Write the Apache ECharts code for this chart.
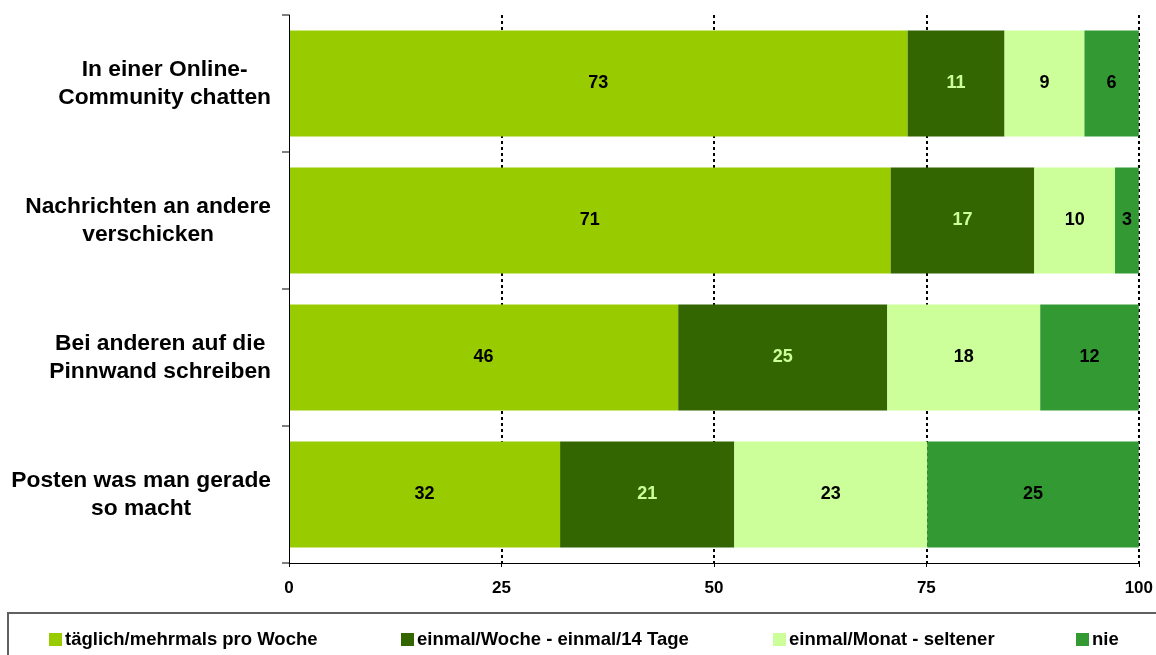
<!DOCTYPE html>
<html>
<head>
<meta charset="utf-8">
<script src="https://cdn.jsdelivr.net/npm/echarts@6/dist/echarts.min.js"></script>
<style>
html,body{margin:0;padding:0;background:#fff;}
#chart{width:1156px;height:655px;}
</style>
</head>
<body>
<div id="chart"></div>
<script>
// Data (top to bottom)
const categories = [
  "In einer Online-\nCommunity chatten",
  "Nachrichten an andere\nverschicken",
  "Bei anderen auf die\nPinnwand schreiben",
  "Posten was man gerade\nso macht"
];
const seriesNames = [
  "täglich/mehrmals pro Woche",
  "einmal/Woche - einmal/14 Tage",
  "einmal/Monat - seltener",
  "nie"
];
const taeglich = [72.8, 70.8, 45.8, 31.9];
const woechentlich = [11.4, 16.9, 24.6, 20.5];
const monatlich = [9.4, 9.5, 18.0, 22.7];
const nie = [6.4, 2.8, 11.6, 24.9];
const xTicks = [0, 25, 50, 75, 100];

const colors = ["#99CC00", "#336600", "#CCFF99", "#339933"];
const labelColors = ["#000000", "#CCFF99", "#000000", "#000000"];
const FONT = "'Liberation Sans', Arial, sans-serif";

const chart = echarts.init(document.getElementById('chart'), null, {renderer: 'canvas'});
const allData = [taeglich, woechentlich, monatlich, nie];

const legendLefts = [49, 401, 773, 1076];

const option = {
  animation: false,
  backgroundColor: '#ffffff',
  grid: {left: 289, right: 15, top: 15, bottom: 92, containLabel: false},
  xAxis: {
    type: 'value',
    min: xTicks[0],
    max: xTicks[xTicks.length - 1],
    interval: 25,
    axisLine: {show: true, lineStyle: {color: '#000', width: 1}},
    axisTick: {show: true, length: 4, lineStyle: {color: '#000'}},
    axisLabel: {
      margin: 17,
      fontFamily: FONT, fontWeight: 'bold', fontSize: 17, color: '#000'
    },
    splitLine: {show: true, showMinLine: false, lineStyle: {color: '#000', width: 2, type: [3, 3]}}
  },
  yAxis: {
    type: 'category',
    data: categories,
    inverse: true,
    z: 5,
    axisLine: {show: true, lineStyle: {color: '#000', width: 1}},
    axisTick: {show: true, length: 7, lineStyle: {color: '#555', width: 1.5}},
    axisLabel: {
      margin: 18,
      align: 'right',
      fontFamily: FONT, fontWeight: 'bold', fontSize: 22.8, color: '#000',
      lineHeight: 28,
      formatter: function (v) {
        return v.split('\n').map(l => '{c|' + l + '}').join('\n');
      },
      rich: {
        c: {align: 'center', fontFamily: FONT, fontWeight: 'bold', fontSize: 22.8, lineHeight: 28, color: '#000'}
      }
    },
    splitLine: {show: false}
  },
  legend: seriesNames.map((n, i) => ({
    data: [n],
    left: legendLefts[i],
    top: 630,
    icon: 'rect',
    itemWidth: 13,
    itemHeight: 13,
    selectedMode: false,
    padding: 0,
    textStyle: {fontFamily: FONT, fontWeight: 'bold', fontSize: 18.5, color: '#000', padding: [0, 0, 0, -2]}
  })),
  graphic: [{
    type: 'rect',
    shape: {x: 8, y: 613, width: 1170, height: 60},
    style: {fill: 'none', stroke: '#606060', lineWidth: 2},
    silent: true
  }],
  series: seriesNames.map((n, i) => ({
    name: n,
    type: 'bar',
    stack: 'total',
    data: allData[i],
    barCategoryGap: '22.6%',
    itemStyle: {color: colors[i]},
    label: {
      show: true,
      position: 'inside',
      fontFamily: FONT, fontWeight: 'bold', fontSize: 18,
      color: labelColors[i],
      formatter: p => String(Math.round(p.value))
    }
  }))
};
chart.setOption(option);
</script>
</body>
</html>
